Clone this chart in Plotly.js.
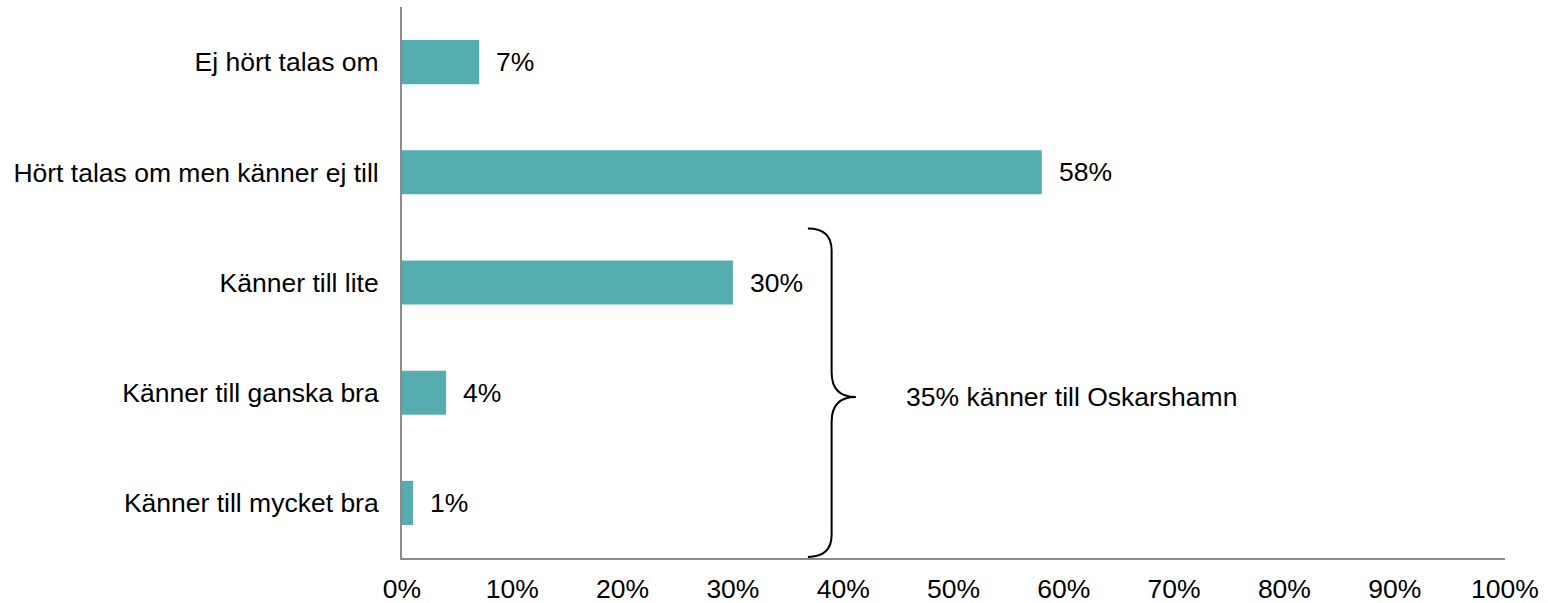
<!DOCTYPE html>
<html>
<head>
<meta charset="utf-8">
<script src="https://cdn.plot.ly/plotly-3.0.1.min.js"></script>
<style>html,body{margin:0;padding:0;background:#fff;}#chart{width:1548px;height:603px;}</style>
</head>
<body>
<div id="chart"></div>
<script>
const categories = ["Ej hört talas om", "Hört talas om men känner ej till", "Känner till lite", "Känner till ganska bra", "Känner till mycket bra"];
const values = [0.07, 0.58, 0.30, 0.04, 0.01];
const valueLabels = ["7%", "58%", "30%", "4%", "1%"];
const tickValues = [0, 0.1, 0.2, 0.3, 0.4, 0.5, 0.6, 0.7, 0.8, 0.9, 1.0];
const tickLabels = ["0%", "10%", "20%", "30%", "40%", "50%", "60%", "70%", "80%", "90%", "100%"];
const bracketText = "35% känner till Oskarshamn";

const FONT = "Liberation Sans, Arial, sans-serif";
const FS = 26.5;

const trace = {
  type: "bar",
  orientation: "h",
  x: values,
  y: categories,
  marker: {color: "#55ADB0"},
  width: 0.4,
  hoverinfo: "none"
};

const annotations = values.map((v, i) => ({
  x: v, y: categories[i], xref: "x", yref: "y",
  text: valueLabels[i], showarrow: false,
  xanchor: "left", yanchor: "middle", xshift: 15,
  font: {family: FONT, size: FS, color: "#000"}
}));
annotations.push({
  x: 0.455, y: 0.292, xref: "x", yref: "paper",
  text: bracketText, showarrow: false,
  xanchor: "left", yanchor: "middle",
  font: {family: FONT, size: FS, color: "#000"}
});

const bx0 = 0.368, bx1 = 0.3895, bx2 = 0.4115;
const yTop = 0.598, yMid = 0.292, yBot = 0.002;
const bracketPath =
  `M ${bx0},${yTop} Q ${bx1},${yTop} ${bx1},${yTop-0.04} L ${bx1},${yMid+0.045} Q ${bx1},${yMid} ${bx2},${yMid} ` +
  `Q ${bx1},${yMid} ${bx1},${yMid-0.045} L ${bx1},${yBot+0.04} Q ${bx1},${yBot} ${bx0},${yBot}`;

const layout = {
  width: 1548, height: 603,
  margin: {l: 402, r: 43, t: 7, b: 45},
  paper_bgcolor: "#fff", plot_bgcolor: "#fff",
  showlegend: false,
  font: {family: FONT, size: FS, color: "#000"},
  xaxis: {
    range: [0, 1], tickvals: tickValues, ticktext: tickLabels,
    showgrid: false, zeroline: false,
    showline: true, linecolor: "#8c8c8c", linewidth: 2,
    ticks: "", ticklabelstandoff: 6,
    tickfont: {family: FONT, size: FS, color: "#000"},
    fixedrange: true
  },
  yaxis: {
    type: "category", categoryorder: "array", categoryarray: categories,
    autorange: "reversed",
    showgrid: false, zeroline: false,
    showline: true, linecolor: "#8c8c8c", linewidth: 2,
    ticks: "", ticklabelstandoff: 16,
    tickfont: {family: FONT, size: FS, color: "#000"},
    fixedrange: true
  },
  shapes: [{
    type: "path", xref: "x", yref: "paper", path: bracketPath,
    line: {color: "#000", width: 2}
  }],
  annotations: annotations
};

Plotly.newPlot("chart", [trace], layout, {displayModeBar: false, staticPlot: true});
</script>
</body>
</html>
